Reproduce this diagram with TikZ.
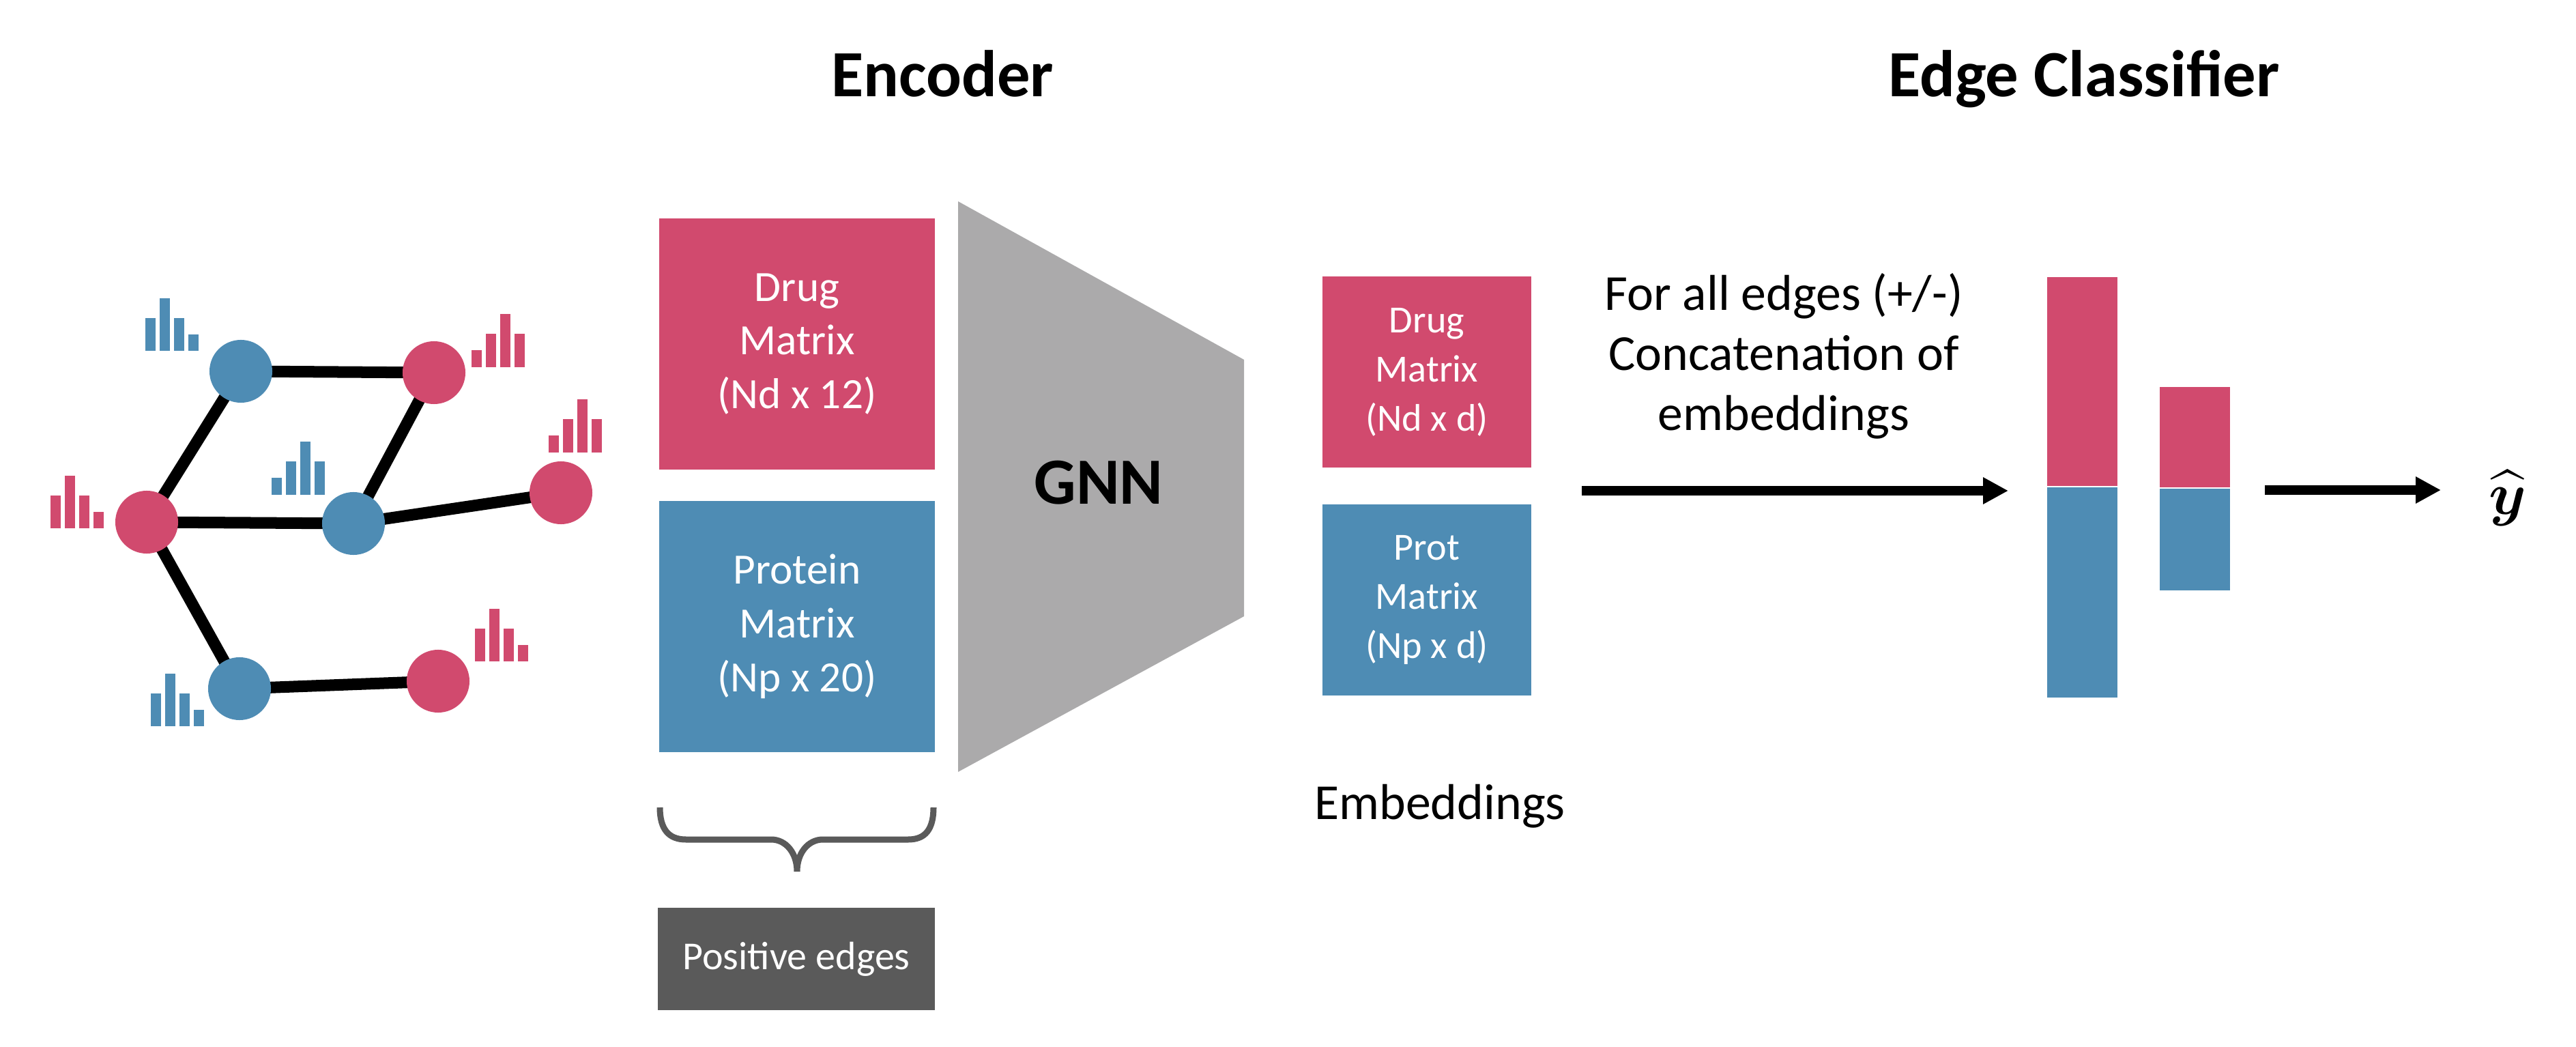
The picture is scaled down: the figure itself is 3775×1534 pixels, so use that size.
\documentclass[tikz,border=0pt]{standalone}
\usepackage{fontspec}
\setmainfont{Carlito}
\usepackage{amsmath}
\usetikzlibrary{arrows.meta,backgrounds}

\definecolor{drugred}{HTML}{D14A6E}
\definecolor{protblue}{HTML}{4E8CB4}
\definecolor{gnngray}{HTML}{ABAAAB}
\definecolor{edgegray}{HTML}{5A5A5A}

\tikzset{
	graphnode/.style={circle, minimum size=0.92cm, inner sep=0pt},
	graphedge/.style={line width=0.17cm},
	matrixbox/.style={rectangle, minimum width=4.04cm, minimum height=3.68cm, text=white, align=center, font=\fontsize{18}{22.4}\selectfont},
	embbox/.style={rectangle, minimum width=3.06cm, minimum height=2.8cm, text=white, align=center, font=\fontsize{16}{20.5}\selectfont},
	title/.style={font=\fontsize{27.5}{33}\selectfont\bfseries, anchor=base},
	flow/.style={line width=0.13cm, -{Triangle[length=0.37cm,width=0.37cm]}},
	bar/.style={rectangle, minimum width=1.03cm, inner sep=0pt},
}

\begin{document}
\begin{tikzpicture}[x=0.01cm, y=-0.01cm]
				\useasboundingbox (0,0) rectangle (3775,1534);

				% Input graph
				\node[graphnode, fill=drugred] (d0) at (215,765) {};
				\node[graphnode, fill=protblue] (p1) at (353,544) {};
				\node[graphnode, fill=drugred] (d1) at (636,546) {};
				\node[graphnode, fill=protblue] (p2) at (518,767) {};
				\node[graphnode, fill=drugred] (d2) at (822,722) {};
				\node[graphnode, fill=protblue] (p3) at (351,1009) {};
				\node[graphnode, fill=drugred] (d3) at (642,998) {};
				\begin{scope}[on background layer]
					\draw[graphedge] (d0.center) -- (p1.center);
					\draw[graphedge] (p1.center) -- (d1.center);
					\draw[graphedge] (d1.center) -- (p2.center);
					\draw[graphedge] (d0.center) -- (p2.center);
					\draw[graphedge] (p2.center) -- (d2.center);
					\draw[graphedge] (d0.center) -- (p3.center);
					\draw[graphedge] (p3.center) -- (d3.center);
				\end{scope}

				% Node features
				\foreach \h [count=\i from 0] in {48,77,48,24}
					\fill[protblue] ({213+21*\i},514) rectangle ++(15,-\h);
				\foreach \h [count=\i from 0] in {25,49,78,49}
					\fill[drugred] ({691+21*\i},538) rectangle ++(15,-\h);
				\foreach \h [count=\i from 0] in {25,49,78,49}
					\fill[drugred] ({804+21*\i},663) rectangle ++(15,-\h);
				\foreach \h [count=\i from 0] in {48,77,48,24}
					\fill[drugred] ({74+21*\i},774) rectangle ++(15,-\h);
				\foreach \h [count=\i from 0] in {25,49,78,49}
					\fill[protblue] ({398+21*\i},725) rectangle ++(15,-\h);
				\foreach \h [count=\i from 0] in {48,77,48,24}
					\fill[protblue] ({221+21*\i},1064) rectangle ++(15,-\h);
				\foreach \h [count=\i from 0] in {48,77,48,24}
					\fill[drugred] ({696+21*\i},969) rectangle ++(15,-\h);

				% Encoder
				\node[title] (enctitle) at (1381,142) {Encoder};
				\node[matrixbox, fill=drugred] (drugmat) at (1168,504) {Drug\\Matrix\\(Nd x 12)};
				\node[matrixbox, fill=protblue] (protmat) at (1168,918) {Protein\\Matrix\\(Np x 20)};

				% Brace and positive edges
				\draw[edgegray, line width=0.09cm] (967,1183) .. controls (967,1215) and (980,1230) .. (1005,1230) -- (1130,1230) .. controls (1152,1230) and (1168,1250) .. (1168,1277) .. controls (1168,1250) and (1184,1230) .. (1206,1230) -- (1331,1230) .. controls (1356,1230) and (1368,1215) .. (1368,1183);
				\node[rectangle, fill=edgegray, minimum width=4.05cm, minimum height=1.5cm, text=white, font=\fontsize{16.5}{20}\selectfont] (posedges) at (1167,1405) {Positive edges};

				% GNN
				\fill[gnngray] (1404,295) -- (1823,527) -- (1823,903) -- (1404,1131) -- cycle;
				\node[font=\fontsize{27.5}{33}\selectfont\bfseries] (gnn) at (1610,707) {GNN};

				% Embeddings
				\node[embbox, fill=drugred] (drugemb) at (2091,545) {Drug\\Matrix\\(Nd x d)};
				\node[embbox, fill=protblue] (protemb) at (2091,879) {Prot\\Matrix\\(Np x d)};
				\node[font=\fontsize{21}{25}\selectfont, anchor=base] (emblabel) at (2110,1200) {Embeddings};

				% Concatenation
				\node[align=center, font=\fontsize{21}{25}\selectfont] (concat) at (2614,522) {For all edges (+/-)\\Concatenation of\\embeddings};
				\coordinate (flowin) at (2318,719);
				\coordinate (flowout) at (2943,719);
				\draw[flow] (flowin) -- (flowout);

				% Edge classifier
				\node[title] (clstitle) at (3054,142) {Edge Classifier};
				\node[bar, fill=drugred, minimum height=3.06cm, anchor=south] (tallred) at (3051,713) {};
				\node[bar, fill=protblue, minimum height=3.08cm, anchor=north] (tallblue) at (3051,713) {};
				\node[bar, fill=drugred, minimum height=1.47cm, anchor=south] (shortred) at (3216,715) {};
				\node[bar, fill=protblue, minimum height=1.49cm, anchor=north] (shortblue) at (3216,715) {};

				% Prediction
				\coordinate (predin) at (3319,718);
				\coordinate (predout) at (3577,718);
				\draw[flow] (predin) -- (predout);
				\node[font=\fontsize{24}{28}\selectfont] (yhat) at (3675,730) {$\widehat{\boldsymbol{y}}$};
\end{tikzpicture}
\end{document}
